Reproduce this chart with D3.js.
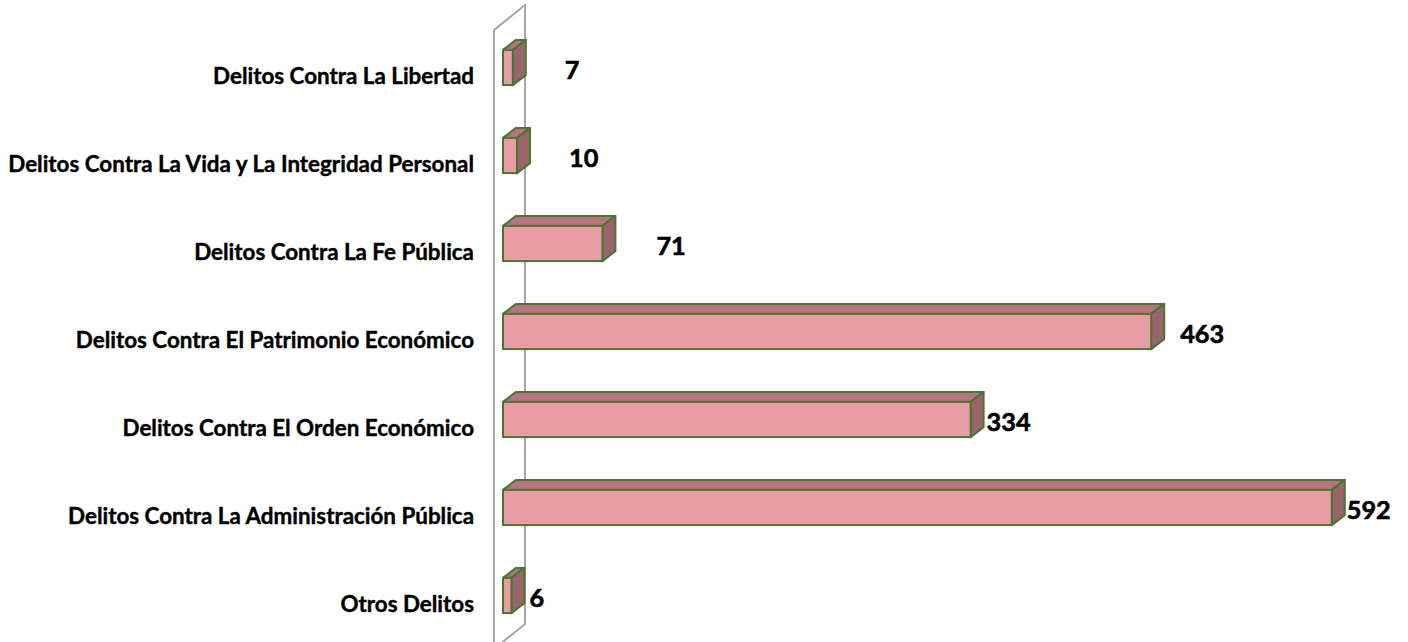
<!DOCTYPE html>
<html>
<head>
<meta charset="utf-8">
<script src="https://cdn.jsdelivr.net/npm/d3@7/dist/d3.min.js"></script>
<style>
  html, body { margin: 0; padding: 0; background: #ffffff; }
  svg { display: block; }
</style>
</head>
<body>
<svg id="chart" width="1408" height="642"></svg>
<script>
// ---- data ----
const categories = [
  "Delitos Contra La Libertad",
  "Delitos Contra La Vida y La Integridad Personal",
  "Delitos Contra La Fe Pública",
  "Delitos Contra El Patrimonio Económico",
  "Delitos Contra El Orden Económico",
  "Delitos Contra La Administración Pública",
  "Otros Delitos"
];
const values = [7, 10, 71, 463, 334, 592, 6];
const valueLabels = ["7", "10", "71", "463", "334", "592", "6"];

// ---- layout (not data) ----
const labelGap = [39, 39, 41, 16, 3, 2, 5]; // gap from bar end to value label, as in reference
const depthX = 13, depthY = -10;
const colors = { front: "#e89ca4", top: "#b3767c", side: "#9a6568", stroke: "#4a7535", wall: "#a6a6a6" };

const svg = d3.select("#chart");
const x = d3.scaleLinear().domain([0, 600]).range([503, 503 + 840]);
const y = d3.scaleBand().domain(categories).range([23.5, 639.5]).paddingInner(0.6).paddingOuter(0.3);

// wall (side wall, drawn behind bars)
const wallX0 = 494, wallX1 = 525;
svg.append("path")
  .attr("d", `M${wallX0},660 L${wallX0},30 L${wallX1},5 L${wallX1},624 L${wallX0},649`)
  .attr("fill", "none").attr("stroke", colors.wall).attr("stroke-width", 2);

// bars
const g = svg.append("g");
categories.forEach((c, i) => {
  const v = values[i];
  const x0 = x(0), x1 = x(v);
  const y0 = y(c), y1 = y(c) + y.bandwidth();
  const bar = g.append("g");
  bar.append("path")
    .attr("d", `M${x0},${y0} L${x0 + depthX},${y0 + depthY} L${x1 + depthX},${y0 + depthY} L${x1},${y0} Z`)
    .attr("fill", colors.top).attr("stroke", colors.stroke).attr("stroke-width", 2).attr("stroke-linejoin", "round");
  bar.append("path")
    .attr("d", `M${x1},${y0} L${x1 + depthX},${y0 + depthY} L${x1 + depthX},${y1 + depthY} L${x1},${y1} Z`)
    .attr("fill", colors.side).attr("stroke", colors.stroke).attr("stroke-width", 2).attr("stroke-linejoin", "round");
  bar.append("rect")
    .attr("x", x0).attr("y", y0).attr("width", x1 - x0).attr("height", y1 - y0)
    .attr("fill", colors.front).attr("stroke", colors.stroke).attr("stroke-width", 2);
});

// category labels
const catFont = "Lato, 'Open Sans', sans-serif";
const catLabels = svg.append("g").selectAll("text").data(categories).join("text")
  .attr("x", 474)
  .attr("y", d => y(d) + y.bandwidth() / 2 + 8)
  .attr("text-anchor", "end")
  .attr("dominant-baseline", "central")
  .attr("font-family", catFont)
  .attr("font-weight", "bold")
  .attr("font-size", 20)
  .attr("fill", "#000")
  .attr("stroke", "#000").attr("stroke-width", 0.4)
  .text(d => d);
// fit longest label to the reference width
const longest = catLabels.filter((d, i) => i === 1).node().getComputedTextLength();
const catSize = 20 * 466 / longest;
catLabels.attr("font-size", catSize);

// value labels
const valLabels = svg.append("g").selectAll("text").data(values).join("text")
  .attr("x", (d, i) => x(d) + depthX + labelGap[i])
  .attr("y", (d, i) => y(categories[i]) + y.bandwidth() / 2 + 1)
  .attr("dominant-baseline", "central")
  .attr("font-family", catFont)
  .attr("font-weight", "bold")
  .attr("font-size", 25)
  .attr("fill", "#000")
  .attr("stroke", "#000").attr("stroke-width", 0.6)
  .text((d, i) => valueLabels[i]);
const w334 = valLabels.filter((d, i) => i === 4).node().getComputedTextLength();
valLabels.attr("font-size", 25 * 44 / w334);
</script>
</body>
</html>
